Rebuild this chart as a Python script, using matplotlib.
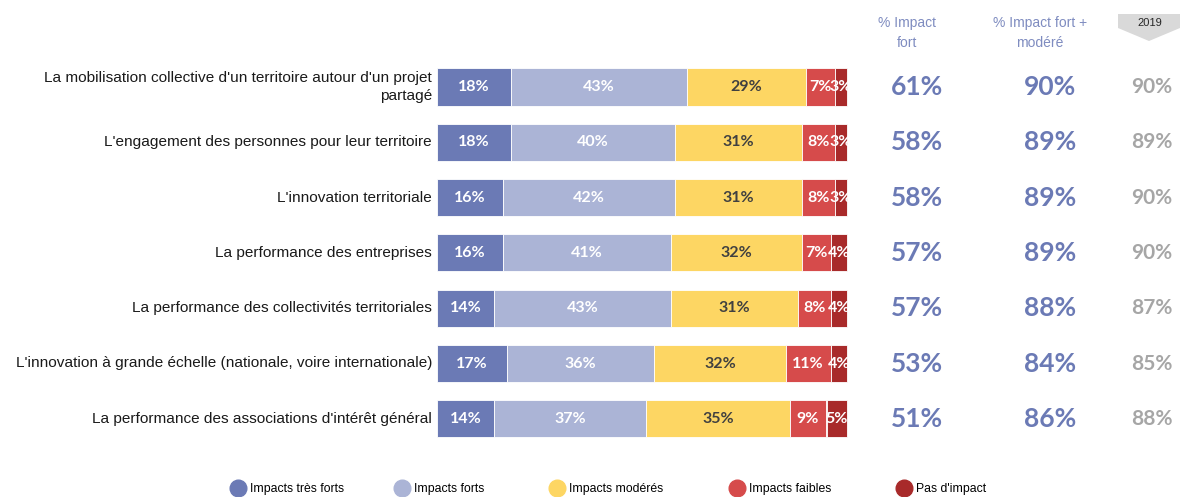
import matplotlib
matplotlib.use("Agg")
import matplotlib.pyplot as plt
from matplotlib.lines import Line2D
from matplotlib.patches import Polygon
import numpy as np

categories = [
    "La mobilisation collective d'un territoire autour d'un projet\npartagé",
    "L'engagement des personnes pour leur territoire",
    "L'innovation territoriale",
    "La performance des entreprises",
    "La performance des collectivités territoriales",
    "L'innovation à grande échelle (nationale, voire internationale)",
    "La performance des associations d'intérêt général",
]
series_names = ["Impacts très forts", "Impacts forts", "Impacts modérés", "Impacts faibles", "Pas d'impact"]
tres_forts = [18, 18, 16, 16, 14, 17, 14]
forts = [43, 40, 42, 41, 43, 36, 37]
moderes = [29, 31, 31, 32, 31, 32, 35]
faibles = [7, 8, 8, 7, 8, 11, 9]
pas_impact = [3, 3, 3, 4, 4, 4, 5]
impact_fort = [61, 58, 58, 57, 57, 53, 51]
impact_fort_modere = [90, 89, 89, 89, 88, 84, 86]
annee_2019 = [90, 89, 90, 90, 87, 85, 88]

colors = ["#6B7AB5", "#ABB4D6", "#FDD663", "#D64B4B", "#A82A2A"]
label_colors = ["white", "white", "#404040", "white", "white"]
blue_txt = "#6B7AB5"
grey_txt = "#A6A6A6"

W, H = 1180, 497
fig = plt.figure(figsize=(W / 100, H / 100), dpi=100)

x0_px, full_px = 437, 410
xmax = (W - x0_px) / (full_px / 100)
row0_px, step_px = 87, 55.3
top_px, bot_px = 59.35, 447
ax = fig.add_axes([x0_px / W, 1 - bot_px / H, (W - x0_px) / W, (bot_px - top_px) / H])
ax.set_xlim(0, xmax)
ax.set_ylim((bot_px - row0_px) / step_px, (top_px - row0_px) / step_px)
ax.axis("off")

num_font = ["Lato", "DejaVu Sans"]
txt_font = ["Liberation Sans", "DejaVu Sans"]

data = [tres_forts, forts, moderes, faibles, pas_impact]
y = np.arange(len(categories))
left = np.zeros(len(categories))
for vals, col, tc, name in zip(data, colors, label_colors, series_names):
    vals = np.array(vals, dtype=float)
    ax.barh(y, vals, left=left, height=0.67, color=col, edgecolor="white", linewidth=0.6, label=name)
    for yi, l, v in zip(y, left, vals):
        ax.text(l + v / 2, yi, f"{int(v)}%", ha="center", va="center", color=tc,
                fontsize=11.5, fontweight="bold", family=num_font)
    left += vals

for yi, cat in zip(y, categories):
    ax.text(-1.2, yi, cat, ha="right", va="center", fontsize=11.1, color="#1a1a1a",
            family=txt_font, clip_on=False, linespacing=1.4)


def px2x(px):
    return (px - x0_px) / (full_px / 100)


for yi, a, b, c in zip(y, impact_fort, impact_fort_modere, annee_2019):
    ax.text(px2x(917), yi, f"{a}%", ha="center", va="center", color=blue_txt,
            fontsize=19, fontweight="bold", family=num_font)
    ax.text(px2x(1050), yi, f"{b}%", ha="center", va="center", color=blue_txt,
            fontsize=19, fontweight="bold", family=num_font)
    ax.text(px2x(1152), yi, f"{c}%", ha="center", va="center", color=grey_txt,
            fontsize=15, fontweight="bold", family=num_font)

fig.text(907 / W, 1 - 33 / H, "% Impact\nfort", ha="center", va="center", color="#7F8CC0",
         fontsize=10, family=txt_font, linespacing=1.55)
fig.text(1040 / W, 1 - 33 / H, "% Impact fort +\nmodéré", ha="center", va="center", color="#7F8CC0",
         fontsize=10, family=txt_font, linespacing=1.55)
poly = Polygon([(1118 / W, 1 - 14 / H), (1180 / W, 1 - 14 / H), (1180 / W, 1 - 28 / H),
                (1149 / W, 1 - 41 / H), (1118 / W, 1 - 28 / H)],
               closed=True, transform=fig.transFigure, facecolor="#D9D9D9", edgecolor="none")
fig.patches.append(poly)
fig.text(1150 / W, 1 - 23 / H, "2019", ha="center", va="center", color="#262626",
         fontsize=8, family=txt_font)

# legend entries, one per series, placed at the reference positions
leg_px = [239, 403, 558, 738, 905]
for name, c, px in zip(series_names, colors, leg_px):
    h = Line2D([0], [0], marker="o", linestyle="none", markersize=12,
               markerfacecolor=c, markeredgecolor=c)
    fig.legend([h], [name], loc="center left", bbox_to_anchor=((px - 11) / W, 1 - 489 / H),
               frameon=False, handletextpad=0.2, handlelength=1.6,
               borderpad=0, borderaxespad=0,
               prop={"family": txt_font, "size": 8.8})

fig.savefig("out.png", dpi=100, facecolor="white")
